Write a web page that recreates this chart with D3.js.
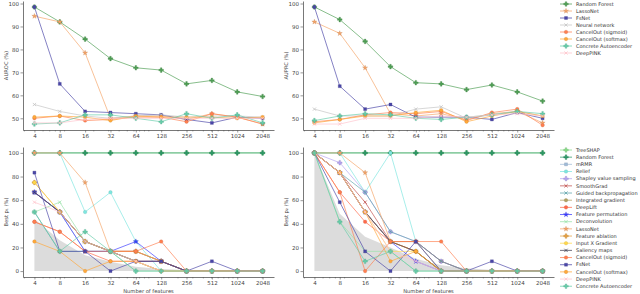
<!DOCTYPE html>
<html>
<head>
<meta charset="utf-8">
<script src="https://cdn.jsdelivr.net/npm/d3@7"></script>
<style>
  body { margin: 0; background: #fff; }
  svg { display: block; font-family: "DejaVu Sans", sans-serif; }
</style>
</head>
<body>
<svg id="chart" width="640" height="294"></svg>
<script>
const features = [4, 8, 16, 32, 64, 128, 256, 512, 1024, 2048];
const yTicksTop = [50, 60, 70, 80, 90, 100];
const yTicksBottom = [0, 20, 40, 60, 80, 100];

// top panels
const topMethods = ['Random Forest', 'LassoNet', 'FsNet', 'Neural network',
  'CancelOut (sigmoid)', 'CancelOut (softmax)', 'Concrete Autoencoder', 'DeepPINK'];

const auroc = [
  [98.5, 92, 84.5, 76, 72, 71, 65, 66.5, 61.5, 59.5],
  [94.5, 92, 78.5, 50, 51, 51, 49.5, 52, 50.5, 47.5],
  [98.5, 65, 53, 52.5, 52, 51.5, 49.5, 48, 50.5, 50],
  [56, 53, 51, 50, 51, 51.5, 50.5, 51, 51, 50.5],
  [50, 51, 49, 49.5, 50.5, 50.5, 48.5, 52, 50.5, 47.5],
  [50.5, 51, 50.5, 49, 51, 50.5, 50.5, 50.5, 50, 50.5],
  [47.5, 48, 51.5, 51.5, 50, 48.5, 52, 50, 51.5, 48],
  [48, 48, 49.5, 50, 50, 50, 50, 50, 50, 50]
];

const auprc = [
  [98.5, 93, 83.5, 72.5, 65.5, 65, 62.5, 64.5, 61.5, 57.5],
  [92, 87, 72, 52, 51, 52, 49.5, 52, 53, 48],
  [98.5, 64, 54, 56, 50.5, 50.5, 50.5, 49.5, 52.5, 50],
  [54, 51, 51, 51, 54, 55, 50, 51.5, 53, 51],
  [48.5, 49.5, 51.5, 52.5, 52, 53, 49, 52.5, 54, 47],
  [48, 49.5, 51, 51, 52.5, 53.5, 48.5, 51, 53, 51],
  [49, 51, 52, 51.5, 50, 49.5, 50.5, 51.5, 53, 52],
  [47.5, 47.5, 50, 50, 50, 51, 50.5, 51.5, 52, 51]
];

// bottom panels
const bottomMethods = ['TreeSHAP', 'Random Forest', 'mRMR', 'Relief', 'Shapley value sampling',
  'SmoothGrad', 'Guided backpropagation', 'Integrated gradient', 'DeepLift', 'Feature permutation',
  'Deconvolution', 'LassoNet', 'Feature ablation', 'Input X Gradient', 'Saliency maps',
  'CancelOut (sigmoid)', 'FsNet', 'CancelOut (softmax)', 'DeepPINK', 'Concrete Autoencoder'];

const bestP1 = [
  [100, 100, 100, 100, 100, 100, 100, 100, 100, 100],
  [100, 100, 100, 100, 100, 100, 100, 100, 100, 100],
  [66.7, 50, 16.7, 16.7, 16.7, 8.3, 0, 0, 0, 0],
  [100, 100, 50, 66.7, 25, 0, 0, 0, 0, 0],
  [66.7, 50, 25, 16.7, 8.3, 8.3, 0, 0, 0, 0],
  [66.7, 50, 25, 16.7, 16.7, 8.3, 0, 0, 0, 0],
  [50, 16.7, 16.7, 16.7, 8.3, 0, 0, 0, 0, 0],
  [66.7, 50, 25, 16.7, 8.3, 0, 0, 0, 0, 0],
  [41.7, 33.3, 16.7, 8.3, 8.3, 8.3, 0, 0, 0, 0],
  [66.7, 50, 16.7, 16.7, 25, 8.3, 0, 0, 0, 0],
  [50, 58.3, 25, 16.7, 0, 0, 0, 0, 0, 0],
  [100, 100, 75, 16.7, 16.7, 8.3, 0, 0, 0, 0],
  [75, 50, 25, 16.7, 16.7, 8.3, 0, 0, 0, 0],
  [75, 50, 25, 16.7, 8.3, 0, 0, 0, 0, 0],
  [66.7, 50, 25, 16.7, 8.3, 8.3, 0, 0, 0, 0],
  [41.7, 33.3, 16.7, 16.7, 16.7, 25, 0, 0, 0, 0],
  [83.3, 16.7, 16.7, 0, 8.3, 8.3, 0, 8.3, 0, 0],
  [25, 16.7, 0, 8.3, 8.3, 0, 0, 0, 0, 0],
  [58.3, 50, 25, 16.7, 8.3, 0, 0, 0, 0, 0],
  [50, 16.7, 33.3, 16.7, 0, 0, 0, 0, 0, 0]
];

const bestP2 = [
  [100, 100, 100, 100, 100, 100, 100, 100, 100, 100],
  [100, 100, 100, 100, 100, 100, 100, 100, 100, 100],
  [100, 83.3, 50, 25, 25, 8.3, 0, 0, 0, 0],
  [100, 100, 66.7, 100, 25, 0, 0, 0, 0, 0],
  [100, 91.7, 66.7, 33.3, 25, 8.3, 0, 0, 0, 0],
  [100, 83.3, 58.3, 25, 25, 8.3, 0, 0, 0, 0],
  [100, 83.3, 66.7, 33.3, 25, 8.3, 0, 0, 0, 0],
  [100, 83.3, 50, 25, 16.7, 0, 0, 0, 0, 0],
  [100, 66.7, 41.7, 25, 16.7, 0, 0, 0, 0, 0],
  [100, 83.3, 50, 25, 8.3, 0, 0, 0, 0, 0],
  [100, 41.7, 16.7, 16.7, 0, 0, 0, 0, 0, 0],
  [100, 100, 83.3, 25, 25, 0, 0, 0, 0, 0],
  [100, 83.3, 50, 25, 16.7, 0, 0, 0, 0, 0],
  [100, 83.3, 50, 16.7, 16.7, 0, 0, 0, 0, 0],
  [100, 83.3, 50, 25, 16.7, 0, 0, 0, 0, 0],
  [100, 66.7, 0, 25, 25, 25, 0, 0, 0, 0],
  [100, 58.3, 16.7, 0, 25, 0, 0, 8.3, 0, 0],
  [100, 83.3, 50, 8.3, 16.7, 0, 0, 0, 0, 0],
  [100, 83.3, 50, 16.7, 8.3, 0, 0, 0, 0, 0],
  [100, 41.7, 8.3, 16.7, 0, 0, 0, 0, 0, 0]
];

// random baseline (gray area)
const baselineP1 = [44, 26, 13.5, 8, 3.7, 1.8, 0.9, 0.4, 0.2, 0.1];
const baselineP2 = [100, 48.5, 29, 20, 10.5, 5, 2.3, 1, 0.5, 0.2];

const style = {
  'Random Forest': { c: '#4f9f55', m: 'plus' },
  'LassoNet': { c: '#f4a468', m: 'star' },
  'FsNet': { c: '#4a46a8', m: 'square' },
  'Neural network': { c: '#c4c4c4', m: 'x' },
  'CancelOut (sigmoid)': { c: '#ff7f50', m: 'circle' },
  'CancelOut (softmax)': { c: '#ffa83a', m: 'circle' },
  'Concrete Autoencoder': { c: '#66cdaa', m: 'plus' },
  'DeepPINK': { c: '#ffc4cc', m: 'x' },
  'TreeSHAP': { c: '#86dc86', m: 'plus' },
  'mRMR': { c: '#9fbbd8', m: 'square' },
  'Relief': { c: '#7ee6e0', m: 'circle' },
  'Shapley value sampling': { c: '#b4a4f0', m: 'plus' },
  'SmoothGrad': { c: '#c0504d', m: 'x' },
  'Guided backpropagation': { c: '#5fa4ac', m: 'x' },
  'Integrated gradient': { c: '#b0a060', m: 'circle' },
  'DeepLift': { c: '#ff6a4a', m: 'circle' },
  'Feature permutation': { c: '#3c3cff', m: 'star' },
  'Deconvolution': { c: '#98e2a8', m: 'x' },
  'Feature ablation': { c: '#e6a040', m: 'plus' },
  'Input X Gradient': { c: '#ffd84a', m: 'circle' },
  'Saliency maps': { c: '#444455', m: 'x' }
};
const bottomStyle = Object.assign({}, style, { 'Random Forest': { c: '#2e9868', m: 'plus' } });

const svg = d3.select('#chart');
svg.append('rect').attr('width', 640).attr('height', 294).attr('fill', '#fff');

const logPad = 0.45;
const xDomain = [Math.pow(2, 2 - logPad), Math.pow(2, 11 + logPad)];

// minor ticks like a log10 axis
const minorTicks = [];
for (let p = 1; p <= 1000; p *= 10) {
  for (let d = 2; d <= 9; d++) {
    const v = d * p;
    if (v > xDomain[0] && v < xDomain[1] && !features.includes(v)) minorTicks.push(v);
  }
}

function symbolPath(kind) {
  if (kind === 'x') return 'M-1.6,-1.6L1.6,1.6M-1.6,1.6L1.6,-1.6';
  const t = { plus: d3.symbolCross, star: d3.symbolStar, square: d3.symbolSquare, circle: d3.symbolCircle }[kind];
  const s = { plus: 12, star: 8, square: 9, circle: 10 }[kind];
  return d3.symbol().type(t).size(s)();
}

function drawMarker(g, kind, color, x, y) {
  const p = g.append('path').attr('d', symbolPath(kind))
    .attr('transform', `translate(${x},${y})`);
  if (kind === 'x') {
    p.attr('fill', 'none').attr('stroke', color).attr('stroke-width', 0.8);
  } else {
    p.attr('fill', color).attr('stroke', d3.color(color).darker(0.6)).attr('stroke-width', 0.3);
  }
}

function panel(opt) {
  const x = d3.scaleLog().base(2).domain(xDomain).range([opt.left, opt.right]);
  const y = d3.scaleLinear().domain(opt.yDomain).range([opt.bottom, opt.top]);
  const g = svg.append('g');

  if (opt.baseline) {
    const area = d3.area().x((d, i) => x(features[i])).y0(y(0)).y1(d => y(d));
    g.append('path').attr('d', area(opt.baseline)).attr('fill', '#d6d6d6').attr('opacity', 0.85);
  }

  const line = d3.line().x((d, i) => x(features[i])).y(d => y(d));
  opt.methods.forEach((name, k) => {
    const st = opt.style[name];
    const vals = opt.values[k];
    g.append('path').attr('d', line(vals)).attr('fill', 'none')
      .attr('stroke', st.c).attr('stroke-width', 0.75).attr('opacity', 0.9);
    vals.forEach((v, i) => drawMarker(g, st.m, st.c, x(features[i]), y(v)));
  });

  const ax = svg.append('g').attr('transform', `translate(0,${opt.bottom})`)
    .call(d3.axisBottom(x).tickValues(features).tickFormat(d3.format('d')).tickSize(2.5).tickSizeOuter(0).tickPadding(1.5));
  svg.append('g').attr('transform', `translate(0,${opt.bottom})`)
    .call(d3.axisBottom(x).tickValues(minorTicks).tickFormat('').tickSize(1.4).tickSizeOuter(0))
    .select('.domain').remove();
  const ay = svg.append('g').attr('transform', `translate(${opt.left},0)`)
    .call(d3.axisLeft(y).tickValues(opt.yTicks).tickSize(2.5).tickSizeOuter(0).tickPadding(1.5));

  svg.selectAll('.domain').attr('stroke', '#555').attr('stroke-width', 0.8);
  svg.selectAll('.tick line').attr('stroke', '#555').attr('stroke-width', 0.6);
  [ax, ay].forEach(a => a.selectAll('text').attr('font-size', 5.5).attr('fill', '#444')
    .attr('font-family', '"DejaVu Sans", sans-serif'));

  svg.append('text')
    .attr('transform', `translate(${opt.left - 15},${(opt.top + opt.bottom) / 2}) rotate(-90)`)
    .attr('text-anchor', 'middle').attr('font-size', 5.2).attr('fill', '#444')
    .text(opt.ylabel);
  if (opt.xlabel) {
    svg.append('text').attr('x', (opt.left + opt.right) / 2).attr('y', opt.bottom + 16)
      .attr('text-anchor', 'middle').attr('font-size', 5.2).attr('fill', '#444')
      .text(opt.xlabel);
  }
}

const topY = [44.9, 101.1];
const botY = [-5, 105];

panel({ left: 23, right: 274, top: 1, bottom: 130, yDomain: topY, yTicks: yTicksTop,
  methods: topMethods, values: auroc, style: style, ylabel: 'AUROC (%)' });
panel({ left: 303, right: 554, top: 1, bottom: 130, yDomain: topY, yTicks: yTicksTop,
  methods: topMethods, values: auprc, style: style, ylabel: 'AUPRC (%)' });
panel({ left: 23, right: 274, top: 147, bottom: 277, yDomain: botY, yTicks: yTicksBottom,
  methods: bottomMethods, values: bestP1, style: bottomStyle, baseline: baselineP1,
  ylabel: 'Best p\u2081 (%)', xlabel: 'Number of features' });
panel({ left: 303, right: 554, top: 147, bottom: 277, yDomain: botY, yTicks: yTicksBottom,
  methods: bottomMethods, values: bestP2, style: bottomStyle, baseline: baselineP2,
  ylabel: 'Best p\u2082 (%)', xlabel: 'Number of features' });

function legend(methods, st, y0, step) {
  const g = svg.append('g');
  methods.forEach((name, i) => {
    const yy = y0 + i * step;
    g.append('line').attr('x1', 560).attr('x2', 572).attr('y1', yy).attr('y2', yy)
      .attr('stroke', st[name].c).attr('stroke-width', 0.75);
    drawMarker(g, st[name].m, st[name].c, 566, yy);
    g.append('text').attr('x', 576).attr('y', yy).attr('dy', '0.35em')
      .attr('font-size', 5).attr('fill', '#333').text(name);
  });
}
legend(topMethods, style, 4, 7);
legend(bottomMethods, bottomStyle, 150, 7.17);
</script>
</body>
</html>
